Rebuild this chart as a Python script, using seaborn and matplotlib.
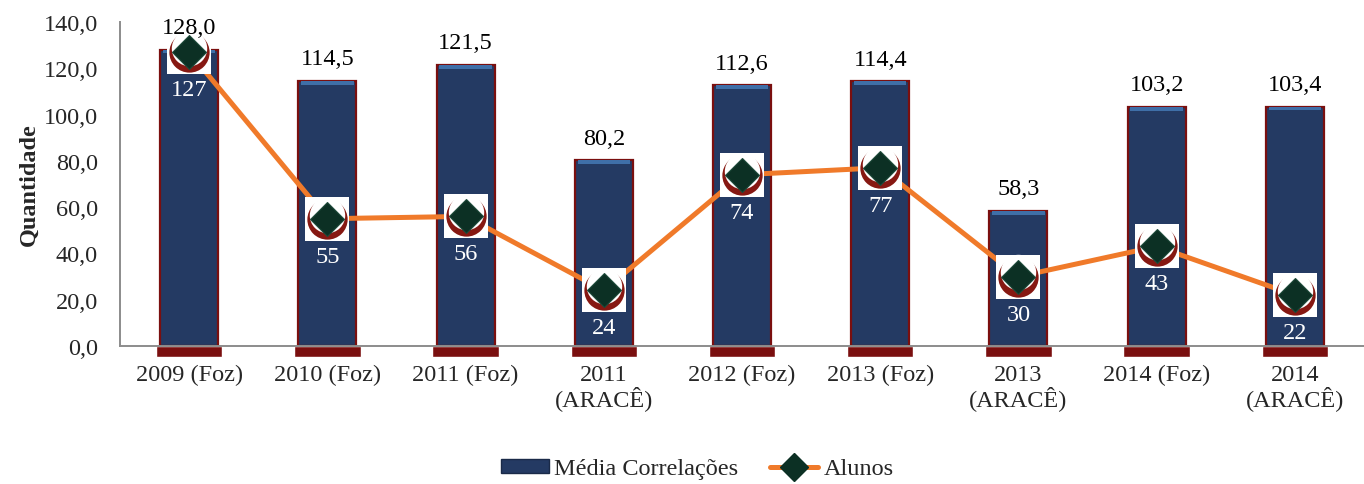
import numpy as np
import pandas as pd
import matplotlib
matplotlib.use("Agg")
import matplotlib.pyplot as plt
import matplotlib.transforms as mtransforms
import seaborn as sns
from matplotlib.lines import Line2D
from matplotlib.patches import Patch

categorias = ["2009 (Foz)", "2010 (Foz)", "2011 (Foz)", "2011\n(ARACÊ)", "2012 (Foz)",
              "2013 (Foz)", "2013\n(ARACÊ)", "2014 (Foz)", "2014\n(ARACÊ)"]
media_correlacoes = [128.0, 114.5, 121.5, 80.2, 112.6, 114.4, 58.3, 103.2, 103.4]
alunos = [127, 55, 56, 24, 74, 77, 30, 43, 22]
y_ticks = [0, 20, 40, 60, 80, 100, 120, 140]

NAVY = "#243a63"
NAVY_TOP = "#3f6fa8"
DARK_RED = "#7a0f0f"
ORANGE = "#f07a2a"
DIAMOND = "#0c3024"
GRID_GRAY = "#8c8c8c"

sns.set_theme(style="white")
plt.rcParams["font.family"] = ["Liberation Serif", "DejaVu Serif"]
FS = 17.5

df = pd.DataFrame({"categoria": categorias, "media": media_correlacoes, "alunos": alunos})
pos = np.arange(len(categorias))

fig = plt.figure(figsize=(13.64, 4.85), dpi=100)
ax = fig.add_axes([120 / 1364, 1 - 347 / 485, 1 - 120 / 1364, (347 - 23) / 485])

# dark red plinth under each column
ax.bar(pos, [-4.8] * len(pos), width=0.48, color=DARK_RED, clip_on=False, zorder=1)

sns.barplot(data=df, x="categoria", y="media", color=NAVY, width=0.42, saturation=1,
            edgecolor=DARK_RED, linewidth=1.6, ax=ax, zorder=2)

# lighter top face of each column
ax.bar(pos, [1.6] * len(pos), bottom=np.array(media_correlacoes) - 1.6, width=0.38,
       color=NAVY_TOP, zorder=3, linewidth=0)

for x, v in zip(pos, media_correlacoes):
    ax.annotate(f"{v:.1f}".replace(".", ","), (x, v), xytext=(0, 12), textcoords="offset points",
                ha="center", va="baseline", fontsize=FS, color="black", zorder=6)

sns.lineplot(x=pos, y=alunos, color=ORANGE, linewidth=3.6, ax=ax, zorder=4)

# marker: white tile, red crescent, dark diamond
up = ax.transData + mtransforms.ScaledTranslation(0, 3 / 72, fig.dpi_scale_trans)
ax.plot(pos, alunos, linestyle="none", marker="s", markersize=31, markerfacecolor="white",
        markeredgewidth=0, zorder=5)
ax.plot(pos, alunos, linestyle="none", marker="o", markersize=29, markerfacecolor="#861812",
        markeredgewidth=0, zorder=5.1)
ax.plot(pos, alunos, linestyle="none", marker="o", markersize=25.5, markerfacecolor="white",
        markeredgewidth=0, transform=up, zorder=5.2)
ax.plot(pos, alunos, linestyle="none", marker="D", markersize=17.5, markerfacecolor=DIAMOND,
        markeredgecolor="#1d4a3a", markeredgewidth=0.8, zorder=6)

for x, v in zip(pos, alunos):
    ax.annotate(str(v), (x, v), xytext=(0, -27), textcoords="offset points",
                ha="center", va="center", fontsize=FS, color="white", zorder=7)

ax.set_xlim(-0.5, 8.45)
ax.set_ylim(0, 140)
ax.set_yticks(y_ticks)
ax.set_yticklabels([f"{t:.1f}".replace(".", ",") for t in y_ticks], fontsize=FS)
ax.set_xticks(pos)
ax.set_xticklabels(categorias, fontsize=FS, linespacing=1.0)
ax.set_xticks(np.arange(-0.5, 9.0, 1.0), minor=True)
ax.tick_params(axis="x", which="major", length=0, pad=13)
ax.tick_params(axis="x", which="minor", length=6, width=1.2, color=GRID_GRAY, direction="out")
ax.tick_params(axis="y", length=6, width=1.2, color=GRID_GRAY, direction="out", pad=10)
ax.set_xlabel("")
ax.set_ylabel("Quantidade", fontsize=FS, fontweight="bold", labelpad=3)

for side in ["top", "right"]:
    ax.spines[side].set_visible(False)
for side in ["left", "bottom"]:
    ax.spines[side].set_color(GRID_GRAY)
    ax.spines[side].set_linewidth(1.4)
    ax.spines[side].set_zorder(3.5)

handles = [
    Patch(facecolor=NAVY, edgecolor="#1a2a48", label="Média Correlações"),
    Line2D([0], [0], color=ORANGE, linewidth=3.6, marker="D", markersize=14,
           markerfacecolor=DIAMOND, markeredgecolor=DIAMOND, label="Alunos"),
]
fig.legend(handles=handles, loc="center", bbox_to_anchor=(0.511, 0.031), ncol=2, frameon=False,
           fontsize=FS, handlelength=2.0, handleheight=0.55, handletextpad=0.2, columnspacing=1.3)

fig.savefig("out.png", dpi=100)
